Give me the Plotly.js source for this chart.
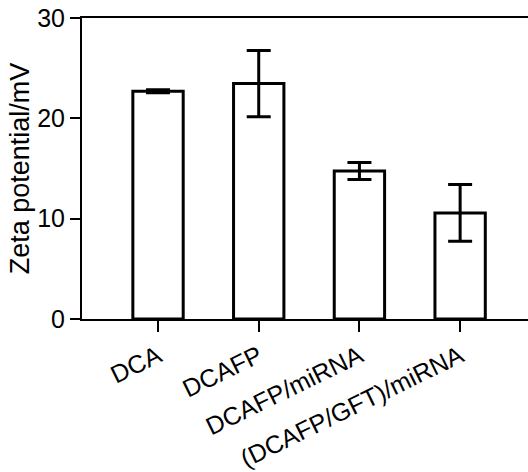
<!DOCTYPE html>
<html>
<head>
<meta charset="utf-8">
<script src="https://cdn.plot.ly/plotly-3.0.1.min.js"></script>
<style>html,body{margin:0;padding:0;background:#fff;}#chart{width:528px;height:472px;}</style>
</head>
<body>
<div id="chart"></div>
<script>
const categories = ["DCA", "DCAFP", "DCAFP/miRNA", "(DCAFP/GFT)/miRNA"];
const zetaMeans = [22.7, 23.46, 14.75, 10.57];
const zetaErrors = [0.15, 3.29, 0.85, 2.83];
const yTickValues = [0, 10, 20, 30];

const font = "Liberation Sans, Arial, Helvetica, sans-serif";

const trace = {
  type: "bar",
  x: categories,
  y: zetaMeans,
  width: 0.5,
  marker: {color: "#ffffff", line: {color: "#000000", width: 3}},
  error_y: {type: "data", array: zetaErrors, visible: true, color: "#000000", thickness: 3, width: 12},
  hoverinfo: "skip"
};

const layout = {
  width: 528,
  height: 472,
  margin: {l: 82, r: 0, t: 18, b: 153},
  paper_bgcolor: "#ffffff",
  plot_bgcolor: "#ffffff",
  showlegend: false,
  font: {family: font, color: "#000000", size: 25},
  xaxis: {
    type: "category",
    range: [-0.755, 3.674],
    showline: true, linecolor: "#000000", linewidth: 2,
    mirror: true,
    ticks: "outside", ticklen: 11, tickwidth: 2, tickcolor: "#000000",
    tickangle: -26,
    tickfont: {family: font, size: 25, color: "#000000"},
    showgrid: false, zeroline: false
  },
  yaxis: {
    range: [0, 30],
    tickvals: yTickValues,
    ticktext: yTickValues.map(String),
    showline: true, linecolor: "#000000", linewidth: 2,
    ticks: "outside", ticklen: 10, tickwidth: 2, tickcolor: "#000000",
    tickfont: {family: font, size: 25, color: "#000000"},
    showgrid: false, zeroline: false,
    title: {text: "Zeta potential/mV", font: {family: font, size: 27, color: "#000000"}, standoff: 0}
  }
};

Plotly.newPlot("chart", [trace], layout, {staticPlot: true, displayModeBar: false});
</script>
</body>
</html>
